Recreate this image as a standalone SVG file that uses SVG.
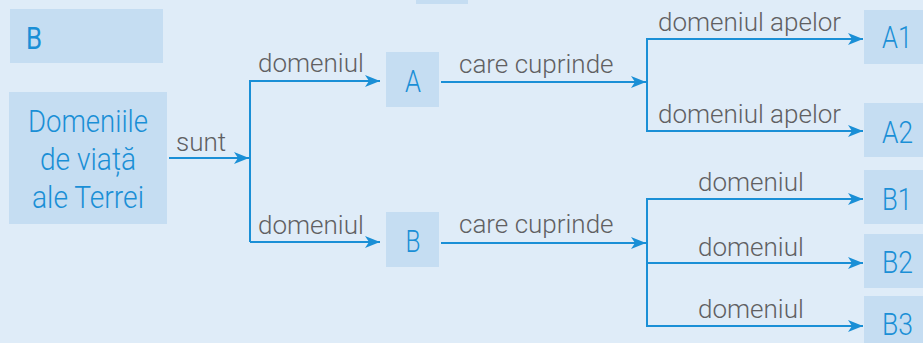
<svg xmlns="http://www.w3.org/2000/svg" width="923" height="343" viewBox="0 0 923 343">
<defs>
<marker id="arr" markerUnits="userSpaceOnUse" markerWidth="16" markerHeight="14" refX="15" refY="7" orient="auto">
<path d="M0,1 L15,7 L0,13 L4,7 Z" fill="#1a8fd6"/>
</marker>
<style>
.box{fill:#c5ddf2}
.bt{font-family:Roboto,"Liberation Sans",sans-serif;font-weight:300;font-size:32px;fill:#1a8fd6}
.lb{font-family:Roboto,"Liberation Sans",sans-serif;font-weight:300;font-size:26px;fill:#5f6062}
.ln{fill:none;stroke:#1a8fd6;stroke-width:2}
</style>
</defs>
<rect x="0" y="0" width="923" height="343" fill="#dfecf8"/>
<g id="top-partial"><rect class="box" x="416" y="-10" width="52" height="14"/></g>
<g id="node-B-title"><rect class="box" x="10" y="9" width="153" height="54"/><text class="bt" x="26" y="49" style="font-weight:400" textLength="16" lengthAdjust="spacingAndGlyphs">B</text></g>
<g id="node-root"><rect class="box" x="9" y="92" width="158" height="132"/>
<text class="bt" x="88" y="132" text-anchor="middle" textLength="120" lengthAdjust="spacingAndGlyphs">Domeniile</text>
<text class="bt" x="88" y="170" text-anchor="middle" textLength="96" lengthAdjust="spacingAndGlyphs">de viață</text>
<text class="bt" x="88" y="208" text-anchor="middle" textLength="112" lengthAdjust="spacingAndGlyphs">ale Terrei</text></g>
<g id="node-A"><rect class="box" x="386" y="52" width="53" height="55"/><text class="bt" x="413" y="92" text-anchor="middle" textLength="16" lengthAdjust="spacingAndGlyphs">A</text></g>
<g id="node-B"><rect class="box" x="386" y="212" width="53" height="55"/><text class="bt" x="413" y="252" text-anchor="middle" textLength="15" lengthAdjust="spacingAndGlyphs">B</text></g>
<g id="node-A1"><rect class="box" x="864" y="10" width="70" height="54"/><text class="bt" x="882" y="48" textLength="30" lengthAdjust="spacingAndGlyphs">A1</text></g>
<g id="node-A2"><rect class="box" x="864" y="103" width="70" height="54"/><text class="bt" x="882" y="143" textLength="31" lengthAdjust="spacingAndGlyphs">A2</text></g>
<g id="node-B1"><rect class="box" x="864" y="170" width="70" height="54"/><text class="bt" x="882" y="210" textLength="30" lengthAdjust="spacingAndGlyphs">B1</text></g>
<g id="node-B2"><rect class="box" x="864" y="234" width="70" height="54"/><text class="bt" x="882" y="273" textLength="31" lengthAdjust="spacingAndGlyphs">B2</text></g>
<g id="node-B3"><rect class="box" x="864" y="296" width="70" height="54"/><text class="bt" x="882" y="335" textLength="31" lengthAdjust="spacingAndGlyphs">B3</text></g>
<g id="connectors">
<path class="ln" d="M169,158 H249" marker-end="url(#arr)"/>
<path class="ln" d="M250,80 V242"/>
<path class="ln" d="M250,81 H380" marker-end="url(#arr)"/>
<path class="ln" d="M250,242 H380" marker-end="url(#arr)"/>
<path class="ln" d="M441,82 H646" marker-end="url(#arr)"/>
<path class="ln" d="M441,243 H646" marker-end="url(#arr)"/>
<path class="ln" d="M647,38 V132"/>
<path class="ln" d="M647,39 H863" marker-end="url(#arr)"/>
<path class="ln" d="M647,131 H863" marker-end="url(#arr)"/>
<path class="ln" d="M647,198 V327"/>
<path class="ln" d="M647,199 H863" marker-end="url(#arr)"/>
<path class="ln" d="M647,263 H863" marker-end="url(#arr)"/>
<path class="ln" d="M647,326 H863" marker-end="url(#arr)"/>
<text class="lb" x="176" y="151">sunt</text>
<text class="lb" x="258" y="72">domeniul</text>
<text class="lb" x="258" y="234">domeniul</text>
<text class="lb" x="459" y="73">care cuprinde</text>
<text class="lb" x="459" y="233">care cuprinde</text>
<text class="lb" x="658" y="31">domeniul apelor</text>
<text class="lb" x="658" y="123">domeniul apelor</text>
<text class="lb" x="698" y="191">domeniul</text>
<text class="lb" x="698" y="256">domeniul</text>
<text class="lb" x="698" y="318">domeniul</text>
</g>
</svg>
